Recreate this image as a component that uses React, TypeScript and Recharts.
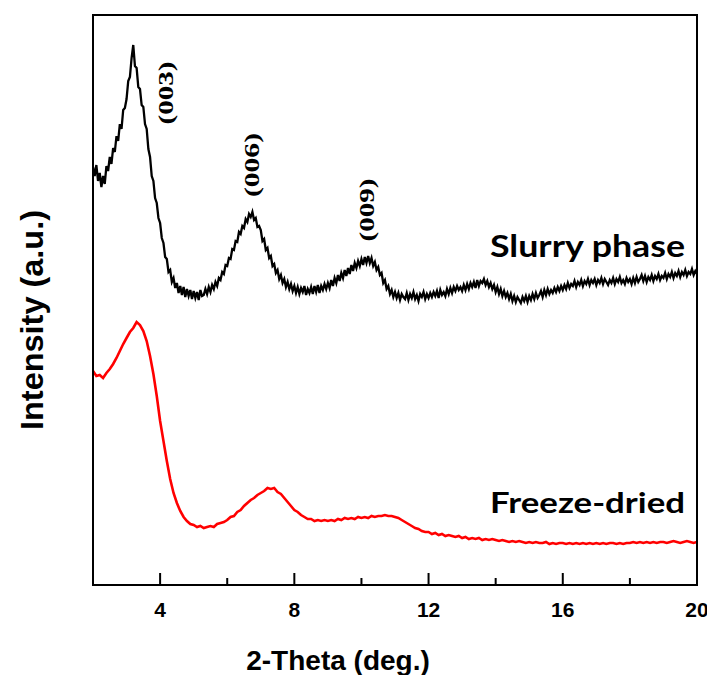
import React from 'react';
import { ComposedChart, Line, XAxis, YAxis } from 'recharts';

// Slurry phase scan (2θ, deg.)
const slurryTheta = [
  2.00, 2.05, 2.10, 2.15, 2.20, 2.25, 2.30, 2.35, 2.40, 2.45, 2.50, 2.55, 2.60, 2.65, 2.70, 2.75, 2.80, 2.85, 2.90, 2.95,
  3.00, 3.05, 3.10, 3.15, 3.20, 3.25, 3.30, 3.35, 3.40, 3.45, 3.50, 3.55, 3.60, 3.65, 3.70, 3.75, 3.80, 3.85, 3.90, 3.95,
  4.00, 4.05, 4.10, 4.15, 4.20, 4.25, 4.30, 4.35, 4.40, 4.45, 4.50, 4.55, 4.60, 4.65, 4.70, 4.75, 4.80, 4.85, 4.90, 4.95,
  5.00, 5.05, 5.10, 5.15, 5.20, 5.25, 5.30, 5.35, 5.40, 5.45, 5.50, 5.55, 5.60, 5.65, 5.70, 5.75, 5.80, 5.85, 5.90, 5.95,
  6.00, 6.05, 6.10, 6.15, 6.20, 6.25, 6.30, 6.35, 6.40, 6.45, 6.50, 6.55, 6.60, 6.65, 6.70, 6.75, 6.80, 6.85, 6.90, 6.95,
  7.00, 7.05, 7.10, 7.15, 7.20, 7.25, 7.30, 7.35, 7.40, 7.45, 7.50, 7.55, 7.60, 7.65, 7.70, 7.75, 7.80, 7.85, 7.90, 7.95,
  8.00, 8.05, 8.10, 8.15, 8.20, 8.25, 8.30, 8.35, 8.40, 8.45, 8.50, 8.55, 8.60, 8.65, 8.70, 8.75, 8.80, 8.85, 8.90, 8.95,
  9.00, 9.05, 9.10, 9.15, 9.20, 9.25, 9.30, 9.35, 9.40, 9.45, 9.50, 9.55, 9.60, 9.65, 9.70, 9.75, 9.80, 9.85, 9.90, 9.95,
  10.00, 10.05, 10.10, 10.15, 10.20, 10.25, 10.30, 10.35, 10.40, 10.45, 10.50, 10.55, 10.60, 10.65, 10.70, 10.75, 10.80, 10.85, 10.90, 10.95,
  11.00, 11.05, 11.10, 11.15, 11.20, 11.25, 11.30, 11.35, 11.40, 11.45, 11.50, 11.55, 11.60, 11.65, 11.70, 11.75, 11.80, 11.85, 11.90, 11.95,
  12.00, 12.05, 12.10, 12.15, 12.20, 12.25, 12.30, 12.35, 12.40, 12.45, 12.50, 12.55, 12.60, 12.65, 12.70, 12.75, 12.80, 12.85, 12.90, 12.95,
  13.00, 13.05, 13.10, 13.15, 13.20, 13.25, 13.30, 13.35, 13.40, 13.45, 13.50, 13.55, 13.60, 13.65, 13.70, 13.75, 13.80, 13.85, 13.90, 13.95,
  14.00, 14.05, 14.10, 14.15, 14.20, 14.25, 14.30, 14.35, 14.40, 14.45, 14.50, 14.55, 14.60, 14.65, 14.70, 14.75, 14.80, 14.85, 14.90, 14.95,
  15.00, 15.05, 15.10, 15.15, 15.20, 15.25, 15.30, 15.35, 15.40, 15.45, 15.50, 15.55, 15.60, 15.65, 15.70, 15.75, 15.80, 15.85, 15.90, 15.95,
  16.00, 16.05, 16.10, 16.15, 16.20, 16.25, 16.30, 16.35, 16.40, 16.45, 16.50, 16.55, 16.60, 16.65, 16.70, 16.75, 16.80, 16.85, 16.90, 16.95,
  17.00, 17.05, 17.10, 17.15, 17.20, 17.25, 17.30, 17.35, 17.40, 17.45, 17.50, 17.55, 17.60, 17.65, 17.70, 17.75, 17.80, 17.85, 17.90, 17.95,
  18.00, 18.05, 18.10, 18.15, 18.20, 18.25, 18.30, 18.35, 18.40, 18.45, 18.50, 18.55, 18.60, 18.65, 18.70, 18.75, 18.80, 18.85, 18.90, 18.95,
  19.00, 19.05, 19.10, 19.15, 19.20, 19.25, 19.30, 19.35, 19.40, 19.45, 19.50, 19.55, 19.60, 19.65, 19.70, 19.75, 19.80, 19.85, 19.90, 19.95,
  20.00,
];

const slurryIntensity = [
  418, 409, 420, 404, 412, 398, 409, 401, 419, 414, 428, 421, 437, 433, 449, 444, 461, 456, 475, 477,
  486, 504, 508, 527, 540, 519, 517, 498, 496, 480, 478, 461, 456, 436, 428, 409, 404, 387, 382, 367,
  362, 347, 342, 328, 326, 313, 315, 303, 307, 297, 302, 292, 299, 290, 298, 288, 296, 289, 295, 286,
  294, 287, 293, 285, 295, 289, 290, 296, 291, 298, 293, 300, 296, 303, 299, 307, 305, 313, 311, 320,
  319, 327, 326, 336, 335, 344, 343, 353, 351, 359, 357, 366, 363, 371, 368, 373, 365, 367, 358, 359,
  355, 344, 346, 335, 337, 327, 329, 319, 321, 312, 315, 306, 310, 302, 306, 298, 303, 296, 301, 294,
  299, 292, 298, 291, 297, 293, 299, 290, 296, 292, 298, 291, 299, 293, 300, 292, 299, 295, 301, 296,
  302, 297, 305, 299, 307, 302, 310, 304, 312, 307, 315, 309, 317, 311, 320, 314, 322, 317, 324, 319,
  326, 320, 328, 322, 329, 322, 327, 319, 323, 315, 318, 310, 312, 302, 305, 296, 299, 291, 295, 288,
  293, 287, 292, 285, 291, 288, 286, 292, 285, 291, 287, 293, 286, 290, 284, 291, 288, 293, 286, 291,
  287, 292, 288, 293, 289, 294, 287, 295, 290, 293, 289, 296, 291, 297, 292, 298, 294, 299, 295, 298,
  294, 300, 295, 301, 296, 302, 298, 303, 297, 305, 299, 304, 302, 306, 300, 304, 298, 302, 296, 300,
  293, 298, 291, 296, 289, 294, 288, 292, 286, 291, 284, 289, 283, 288, 285, 282, 288, 284, 289, 283,
  289, 285, 291, 286, 292, 287, 290, 294, 288, 295, 290, 296, 291, 295, 292, 297, 293, 298, 294, 299,
  295, 300, 296, 302, 297, 301, 299, 304, 298, 303, 300, 305, 299, 304, 301, 306, 300, 305, 302, 306,
  300, 305, 302, 307, 301, 306, 303, 300, 305, 302, 307, 301, 306, 303, 308, 302, 305, 301, 307, 303,
  306, 301, 307, 302, 308, 303, 306, 310, 304, 309, 303, 308, 305, 310, 304, 309, 306, 311, 305, 309,
  307, 312, 306, 311, 308, 313, 307, 312, 309, 314, 308, 313, 310, 315, 309, 313, 311, 316, 310, 314,
  311,
];

// Freeze-dried scan (2θ, deg.)
const freezeTheta = [
  2.0, 2.1, 2.2, 2.3, 2.4, 2.5, 2.6, 2.7, 2.8, 2.9,
  3.0, 3.1, 3.2, 3.3, 3.4, 3.5, 3.6, 3.7, 3.8, 3.9,
  4.0, 4.1, 4.2, 4.3, 4.4, 4.5, 4.6, 4.7, 4.8, 4.9,
  5.0, 5.1, 5.2, 5.3, 5.4, 5.5, 5.6, 5.7, 5.8, 5.9,
  6.0, 6.1, 6.2, 6.3, 6.4, 6.5, 6.6, 6.7, 6.8, 6.9,
  7.0, 7.1, 7.2, 7.3, 7.4, 7.5, 7.6, 7.7, 7.8, 7.9,
  8.0, 8.1, 8.2, 8.3, 8.4, 8.5, 8.6, 8.7, 8.8, 8.9,
  9.0, 9.1, 9.2, 9.3, 9.4, 9.5, 9.6, 9.7, 9.8, 9.9,
  10.0, 10.1, 10.2, 10.3, 10.4, 10.5, 10.6, 10.7, 10.8, 10.9,
  11.0, 11.1, 11.2, 11.3, 11.4, 11.5, 11.6, 11.7, 11.8, 11.9,
  12.0, 12.1, 12.2, 12.3, 12.4, 12.5, 12.6, 12.7, 12.8, 12.9,
  13.0, 13.1, 13.2, 13.3, 13.4, 13.5, 13.6, 13.7, 13.8, 13.9,
  14.0, 14.1, 14.2, 14.3, 14.4, 14.5, 14.6, 14.7, 14.8, 14.9,
  15.0, 15.1, 15.2, 15.3, 15.4, 15.5, 15.6, 15.7, 15.8, 15.9,
  16.0, 16.1, 16.2, 16.3, 16.4, 16.5, 16.6, 16.7, 16.8, 16.9,
  17.0, 17.1, 17.2, 17.3, 17.4, 17.5, 17.6, 17.7, 17.8, 17.9,
  18.0, 18.1, 18.2, 18.3, 18.4, 18.5, 18.6, 18.7, 18.8, 18.9,
  19.0, 19.1, 19.2, 19.3, 19.4, 19.5, 19.6, 19.7, 19.8, 19.9,
  20.0,
];

const freezeIntensity = [
  214, 209, 210, 207, 212, 216, 221, 227, 234, 241,
  247, 253, 257, 263, 260, 254, 244, 229, 211, 189,
  164, 144, 124, 106, 92, 82, 74, 68, 64, 61,
  60, 58, 59, 57, 58, 59, 58, 61, 62, 63,
  65, 68, 69, 73, 75, 79, 82, 85, 87, 90,
  92, 94, 97, 96, 97, 93, 91, 87, 83, 79,
  75, 73, 70, 68, 66, 66, 64, 65, 64, 65,
  64, 65, 64, 66, 65, 67, 66, 67, 66, 68,
  67, 68, 67, 69, 68, 69, 69, 70, 69, 69,
  68, 67, 65, 63, 61, 59, 57, 56, 54, 53,
  53, 51, 52, 50, 51, 49, 50, 49, 48, 49,
  47, 48, 46, 47, 46, 47, 45, 46, 45, 46,
  45, 44, 45, 44, 43, 44, 43, 44, 43, 42,
  43, 42, 43, 42, 42, 43, 41, 42, 41, 42,
  42, 41, 42, 41, 42, 41, 42, 41, 42, 41,
  42, 41, 42, 41, 42, 42, 41, 42, 41, 42,
  42, 43, 42, 43, 42, 43, 42, 43, 42, 43,
  43, 42, 43, 44, 43, 42, 43, 44, 43, 42,
  43,
];

const xTicks = [2, 4, 6, 8, 10, 12, 14, 16, 18, 20];
const majorTicks = [4, 8, 12, 16, 20];

const slurryData = slurryTheta.map((t, i) => ({ theta: t, intensity: slurryIntensity[i] }));
const freezeData = freezeTheta.map((t, i) => ({ theta: t, intensity: freezeIntensity[i] }));

const SANS = '"Liberation Sans", Arial, sans-serif';
const SERIF = '"Liberation Serif", "Times New Roman", serif';
const CALIBRI = 'Lato, "Open Sans", sans-serif';

const XTick = (props: any) => {
  const { x, y, payload } = props;
  const v = payload.value;
  const major = majorTicks.includes(v);
  const len = major ? 12 : 7;
  return (
    <g>
      <line x1={x} y1={y} x2={x} y2={y - len} stroke="#000" strokeWidth={2} />
      {major && (
        <text x={x} y={y + 32} textAnchor="middle" fontFamily={SANS} fontWeight="bold" fontSize={21} fill="#000">
          {v}
        </text>
      )}
    </g>
  );
};

export default function App() {
  const W = 700;
  const H = 667;
  const left = 85;
  const top = 7;
  const plotW = 604;
  const plotH = 570;
  return (
    <div style={{ position: 'relative', width: W, height: H }}>
      <ComposedChart
        width={W}
        height={H}
        margin={{ top, right: W - left - plotW, left, bottom: H - top - plotH - 60 }}
      >
        <XAxis
          dataKey="theta"
          type="number"
          domain={[2, 20]}
          ticks={xTicks}
          axisLine={false}
          tickLine={false}
          tickSize={0}
          tickMargin={0}
          tick={<XTick />}
          height={60}
          allowDataOverflow
          interval={0}
        />
        <YAxis type="number" domain={[0, 570]} hide width={0} allowDataOverflow />
        <Line data={freezeData} type="linear" dataKey="intensity" stroke="#ff0000" strokeWidth={2.6} dot={false} isAnimationActive={false} />
        <Line data={slurryData} type="linear" dataKey="intensity" stroke="#000000" strokeWidth={2.3} dot={false} isAnimationActive={false} />
      </ComposedChart>
      <svg width={W} height={H} style={{ position: 'absolute', left: 0, top: 0, pointerEvents: 'none' }}>
        <rect x={left} y={top} width={plotW} height={plotH} fill="none" stroke="#000" strokeWidth={2} />
        <text x={330} y={662} textAnchor="middle" fontFamily={SANS} fontWeight="bold" fontSize={28} fill="#000">
          2-Theta (deg.)
        </text>
        <text
          x={35}
          y={312}
          transform="rotate(-90 35 312)"
          textAnchor="middle"
          fontFamily={SANS}
          fontWeight="bold"
          fontSize={32}
          textLength={220}
          lengthAdjust="spacingAndGlyphs"
          fill="#000"
        >
          Intensity (a.u.)
        </text>
        <text x={165} y={85} transform="rotate(-90 165 85)" textAnchor="middle" fontFamily={SERIF} fontWeight="bold" fontSize={21} textLength={63} lengthAdjust="spacingAndGlyphs" fill="#000">(003)</text>
        <text x={251} y={157} transform="rotate(-90 251 157)" textAnchor="middle" fontFamily={SERIF} fontWeight="bold" fontSize={21} textLength={64} lengthAdjust="spacingAndGlyphs" fill="#000">(006)</text>
        <text x={366} y={202} transform="rotate(-90 366 202)" textAnchor="middle" fontFamily={SERIF} fontWeight="bold" fontSize={21} textLength={63} lengthAdjust="spacingAndGlyphs" fill="#000">(009)</text>
        <text x={482} y={249} fontFamily={CALIBRI} fontWeight="bold" fontSize={30} textLength={195} lengthAdjust="spacingAndGlyphs" fill="#000">Slurry phase</text>
        <text x={482} y={505} fontFamily={CALIBRI} fontWeight="bold" fontSize={28} textLength={195} lengthAdjust="spacingAndGlyphs" fill="#000">Freeze-dried</text>
      </svg>
    </div>
  );
}
